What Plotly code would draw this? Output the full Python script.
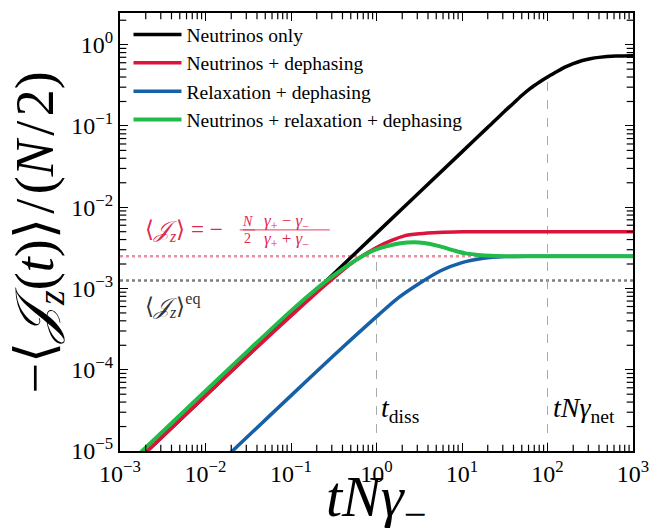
import math
import plotly.graph_objects as go

# ---------------- data ----------------
t_black = [1e-3, 1e-2, 1e-1, 1.0, 10.0, 20.0, 31.6, 40.0, 50.0, 63.0, 80.0, 100.0, 126.0, 160.0,
           200.0, 250.0, 316.0, 400.0, 630.0, 1000.0]
y_black = [4.8e-6, 4.8e-5, 4.8e-4, 4.8e-3, 4.8e-2, 9.6e-2, 0.152, 0.19, 0.237, 0.29, 0.345, 0.40,
           0.46, 0.53, 0.585, 0.635, 0.672, 0.698, 0.724, 0.73]

t_red = [1e-3, 1e-2, 3.16e-2, 1e-1, 0.178, 0.316, 0.562, 1.0, 1.5, 2.12, 3.16, 5.24, 10.0, 31.6, 100.0, 1000.0]
y_red = [4.8e-6, 4.8e-5, 1.5e-4, 4.6e-4, 8.0e-4, 1.35e-3, 2.2e-3, 3.2e-3, 3.9e-3, 4.44e-3, 4.7e-3,
         4.88e-3, 4.98e-3, 5.0e-3, 5.0e-3, 5.0e-3]

t_blue = [1e-2, 1.78e-2, 3.16e-2, 1e-1, 0.316, 1.0, 1.78, 3.16, 5.62, 10.0, 17.8, 31.6, 56.2, 100.0, 1000.0]
y_blue = [4.8e-6, 8.6e-6, 1.53e-5, 4.8e-5, 1.5e-4, 4.5e-4, 7.6e-4, 1.15e-3, 1.65e-3, 2.08e-3, 2.35e-3,
          2.47e-3, 2.5e-3, 2.5e-3, 2.5e-3]

t_green = [1e-3, 1e-2, 3.16e-2, 1e-1, 0.178, 0.316, 0.562, 0.865, 1.3, 1.9, 2.76, 3.6, 5.24, 8.2,
           10.7, 15.4, 22.0, 31.6, 100.0, 1000.0]
y_green = [5.5e-6, 5.5e-5, 1.72e-4, 5.3e-4, 9.0e-4, 1.45e-3, 2.2e-3, 2.85e-3, 3.3e-3, 3.6e-3,
           3.7e-3, 3.62e-3, 3.34e-3, 2.92e-3, 2.72e-3, 2.59e-3, 2.52e-3, 2.5e-3, 2.5e-3, 2.5e-3]

series_names = ["Neutrinos only", "Neutrinos + dephasing", "Relaxation + dephasing",
                "Neutrinos + relaxation + dephasing"]
series_colors = ["#000000", "#dc143c", "#1660a8", "#20bb48"]

jz_steady = 2.5e-3      # pink dotted level
jz_eq = 1.25e-3         # gray dotted level
t_diss = 1.0
t_net = 100.0
t_diss_top = 2.5e-3
t_net_top = 0.37

x_tickvals = [1e-3, 1e-2, 1e-1, 1, 10, 100, 1000]
x_ticktext = ["10<sup>−3</sup>", "10<sup>−2</sup>", "10<sup>−1</sup>", "10<sup>0</sup>",
              "10<sup>1</sup>", "10<sup>2</sup>", "10<sup>3</sup>"]
y_tickvals = [1e-5, 1e-4, 1e-3, 1e-2, 1e-1, 1]
y_ticktext = ["10<sup>−5</sup>", "10<sup>−4</sup>", "10<sup>−3</sup>", "10<sup>−2</sup>",
              "10<sup>−1</sup>", "10<sup>0</sup>"]
minor_digits = [2, 3, 4, 5, 6, 7, 8, 9]
x_decades = [-3, -2, -1, 0, 1, 2]
y_decades = [-5, -4, -3, -2, -1, 0]

# ---------------- layout geometry (reference pixels; page body has an 8px margin) ----------------
OFF = 8
W, H = 661 - OFF, 531 - OFF
L, R, T, B = 119.5, 633.0, 12.7, 451.5
SERIF = "Liberation Serif"
XR = [-3.0, 3.0]
YR = [-5.0, 0.39]


def px(xp):
    return (xp - L) / (R - L)


def py(yp):
    return (B - yp) / (B - T)


def lx(xp):  # pixel -> x data value on the log axis
    return 10 ** (XR[0] + px(xp) * (XR[1] - XR[0]))


def ly(yp):  # pixel -> y data value on the log axis
    return 10 ** (YR[0] + py(yp) * (YR[1] - YR[0]))


fig = go.Figure()

# reference lines (drawn first, below curves)
fig.add_trace(go.Scatter(x=[1e-3, 1e3], y=[jz_steady, jz_steady], mode="lines",
                         line=dict(color="#e98ea2", width=2.5, dash="dot"),
                         showlegend=False, hoverinfo="skip"))
fig.add_trace(go.Scatter(x=[1e-3, 1e3], y=[jz_eq, jz_eq], mode="lines",
                         line=dict(color="#7f7f7f", width=2.5, dash="dot"),
                         showlegend=False, hoverinfo="skip"))
fig.add_trace(go.Scatter(x=[t_diss, t_diss], y=[1e-5, t_diss_top], mode="lines",
                         line=dict(color="#aaaaaa", width=1, dash="dash"),
                         showlegend=False, hoverinfo="skip"))
fig.add_trace(go.Scatter(x=[t_net, t_net], y=[1e-5, t_net_top], mode="lines",
                         line=dict(color="#aaaaaa", width=1, dash="dash"),
                         showlegend=False, hoverinfo="skip"))

for t, y, name, col, w in zip([t_black, t_red, t_blue, t_green],
                              [y_black, y_red, y_blue, y_green],
                              series_names, series_colors, [3.5, 3.5, 3.5, 4]):
    fig.add_trace(go.Scatter(x=t, y=y, mode="lines", name=name,
                             line=dict(color=col, width=w, shape="spline", smoothing=0.6)))

# minor ticks as line-shaped markers centred on the frame (outer half is clipped away)
x_minor = [d * 10.0 ** e for e in x_decades for d in minor_digits]
y_minor = [d * 10.0 ** e for e in y_decades for d in minor_digits if math.log10(d * 10.0 ** e) <= YR[1]]
tick_marker_v = dict(symbol="line-ns-open", size=9, color="black", line=dict(color="black", width=1.2))
tick_marker_h = dict(symbol="line-ew-open", size=9, color="black", line=dict(color="black", width=1.2))
fig.add_trace(go.Scatter(x=x_minor + x_minor, y=[10 ** YR[0]] * len(x_minor) + [10 ** YR[1]] * len(x_minor),
                         mode="markers", marker=tick_marker_v, cliponaxis=True,
                         showlegend=False, hoverinfo="skip"))
fig.add_trace(go.Scatter(x=[10 ** XR[0]] * len(y_minor) + [10 ** XR[1]] * len(y_minor), y=y_minor + y_minor,
                         mode="markers", marker=tick_marker_h, cliponaxis=True,
                         showlegend=False, hoverinfo="skip"))

pink = "#e0274f"
# fraction bars of the pink formula (horizontal line markers)
fig.add_trace(go.Scatter(x=[lx(247), lx(286)], y=[ly(230), ly(230)], mode="markers",
                         marker=dict(symbol="line-ew-open", size=[11, 62], color=pink,
                                     line=dict(color=pink, width=1.2)),
                         showlegend=False, hoverinfo="skip"))

axis_common = dict(type="log", showgrid=False, zeroline=False, showline=True,
                   linecolor="black", linewidth=2, mirror="allticks",
                   ticks="inside", ticklen=8, tickwidth=1.3, tickcolor="black",
                   tickfont=dict(family=SERIF, size=24, color="black"))

fig.update_layout(
    width=W, height=H,
    margin=dict(l=L - OFF, r=661 - R, t=T - OFF, b=531 - B, autoexpand=False),
    paper_bgcolor="white", plot_bgcolor="white",
    xaxis=dict(range=XR, tickvals=x_tickvals, ticktext=x_ticktext, **axis_common),
    yaxis=dict(range=YR, tickvals=y_tickvals, ticktext=y_ticktext, **axis_common),
    legend=dict(x=px(128), y=py(15), xanchor="left", yanchor="top",
                bgcolor="rgba(0,0,0,0)", borderwidth=0,
                font=dict(family=SERIF, size=19.5, color="black"),
                itemwidth=48, tracegroupgap=0),
    showlegend=True,
)

ann = []
# axis titles
ann.append(dict(x=px(376), y=py(501), xref="paper", yref="paper",
                text="<i>tNγ</i><sub>−</sub>", showarrow=False,
                font=dict(family=SERIF, size=58, color="black"),
                xanchor="center", yanchor="middle"))
hs = "\u200a"
ann.append(dict(x=px(38), y=py(233), xref="paper", yref="paper", textangle=-90,
                text="−⟨<i>𝒥</i><sub><i>z</i></sub>(<i>t</i>)⟩" + hs + "/" + hs + "(<i>N</i>" + hs + "/" + hs + "2)",
                showarrow=False,
                font=dict(family=SERIF, size=54, color="black"),
                xanchor="center", yanchor="middle"))
# t_diss and tN gamma_net labels
ann.append(dict(x=px(379), y=py(410), xref="paper", yref="paper",
                text="<i>t</i><sub>diss</sub>", showarrow=False,
                font=dict(family=SERIF, size=28, color="black"),
                xanchor="left", yanchor="middle"))
ann.append(dict(x=px(551), y=py(410), xref="paper", yref="paper",
                text="<i>tNγ</i><sub>net</sub>", showarrow=False,
                font=dict(family=SERIF, size=28, color="black"),
                xanchor="left", yanchor="middle"))
# equilibrium label
ann.append(dict(x=px(143), y=py(306), xref="paper", yref="paper",
                text="⟨<i>𝒥</i><sub><i>z</i></sub>⟩<sup>eq</sup>", showarrow=False,
                font=dict(family=SERIF, size=23, color="#333333"),
                xanchor="left", yanchor="middle"))
# steady-state formula (pink)
ann.append(dict(x=px(143), y=py(231), xref="paper", yref="paper",
                text="⟨<i>𝒥</i><sub><i>z</i></sub>⟩ = −", showarrow=False,
                font=dict(family=SERIF, size=23, color=pink),
                xanchor="left", yanchor="middle"))
ann.append(dict(x=px(247), y=py(222), xref="paper", yref="paper",
                text="<i>N</i>", showarrow=False,
                font=dict(family=SERIF, size=14, color=pink),
                xanchor="center", yanchor="middle"))
ann.append(dict(x=px(247), y=py(238.5), xref="paper", yref="paper",
                text="2", showarrow=False,
                font=dict(family=SERIF, size=14, color=pink),
                xanchor="center", yanchor="middle"))
ann.append(dict(x=px(286), y=py(222), xref="paper", yref="paper",
                text="<i>γ</i><sub>+</sub> − <i>γ</i><sub>−</sub>", showarrow=False,
                font=dict(family=SERIF, size=17, color=pink),
                xanchor="center", yanchor="middle"))
ann.append(dict(x=px(286), y=py(240), xref="paper", yref="paper",
                text="<i>γ</i><sub>+</sub> + <i>γ</i><sub>−</sub>", showarrow=False,
                font=dict(family=SERIF, size=17, color=pink),
                xanchor="center", yanchor="middle"))

fig.update_layout(annotations=ann)

fig.write_html("out.html")
